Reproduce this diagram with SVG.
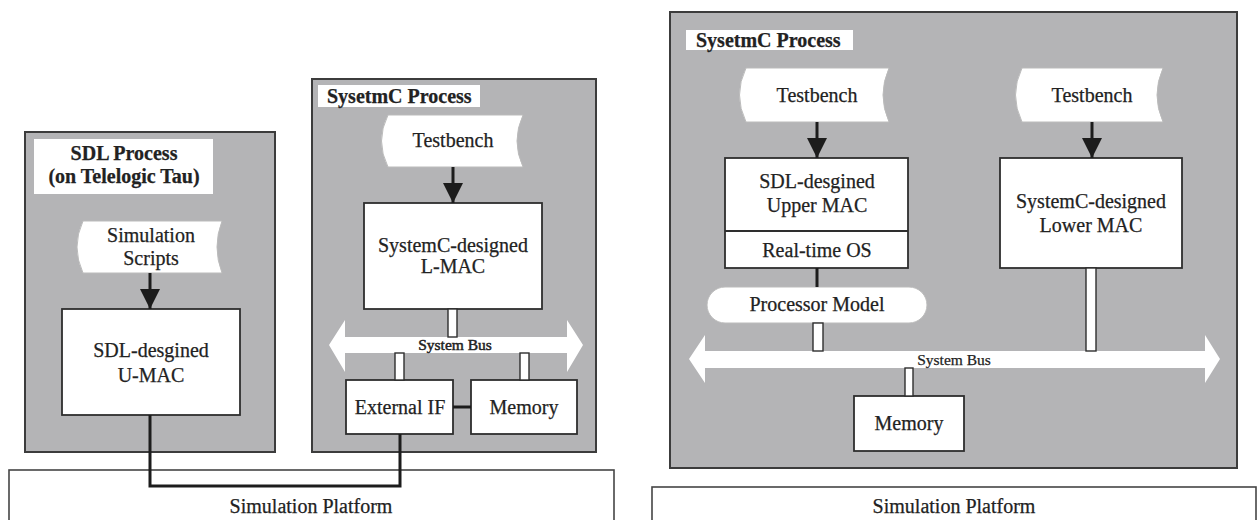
<svg xmlns="http://www.w3.org/2000/svg" width="1258" height="520" viewBox="0 0 1258 520">
  <defs>
    <style>
      .panel { fill: #b4b4b6; stroke: #3c3c3c; stroke-width: 2; }
      .box { fill: #ffffff; stroke: #2e2e2e; stroke-width: 1.8; }
      .tape { fill: #ffffff; stroke: #bbbbbb; stroke-width: 1; }
      .title-bg { fill: #ffffff; stroke: none; }
      .bus { fill: #ffffff; stroke: none; }
      .bar { fill: #ffffff; stroke: #2e2e2e; stroke-width: 1.4; }
      .wire { fill: none; stroke: #1c1c1c; stroke-width: 3; }
      .platform { fill: #ffffff; stroke: #454545; stroke-width: 1.6; }
      text { font-family: "Liberation Serif", "Times New Roman", serif; fill: #222222; stroke: #222222; stroke-width: 0.25; }
      .lbl { font-size: 20px; text-anchor: middle; }
      .ttl { font-size: 20px; font-weight: bold; }
      .ttl-c { font-size: 20px; font-weight: bold; text-anchor: middle; }
      .buslbl { font-size: 15.5px; text-anchor: middle; }
      .buslbl-b { font-size: 15.5px; text-anchor: middle; stroke-width: 0.5; }
    </style>
    <marker id="arrowhead" viewBox="0 0 20 20" refX="20" refY="10" markerWidth="20" markerHeight="20" markerUnits="userSpaceOnUse" orient="auto">
      <path d="M0,0 L20,10 L0,20 Z" fill="#1c1c1c"/>
    </marker>
  </defs>

  <!-- Simulation platforms -->
  <g id="platform-left">
    <rect class="platform" x="9" y="470" width="605" height="60"/>
    <text class="lbl" x="311" y="513">Simulation Platform</text>
  </g>
  <g id="platform-right">
    <rect class="platform" x="652" y="487" width="604" height="45"/>
    <text class="lbl" x="954" y="513">Simulation Platform</text>
  </g>

  <!-- Left: SDL process -->
  <g id="sdl-process">
    <rect class="panel" x="25" y="132" width="250" height="320"/>
    <rect class="title-bg" x="34" y="139" width="179" height="55"/>
    <text class="ttl-c" x="124" y="160">SDL Process</text>
    <text class="ttl-c" x="124" y="183">(on Telelogic Tau)</text>
  </g>
  <g id="sim-scripts">
    <path class="tape" d="M83,221 H222 Q212,247 222,273 H83 Q71,247 83,221 Z"/>
    <text class="lbl" x="151" y="242">Simulation</text>
    <text class="lbl" x="151" y="265">Scripts</text>
  </g>
  <g id="u-mac">
    <rect class="box" x="62" y="309" width="178" height="106"/>
    <text class="lbl" x="151" y="357">SDL-desgined</text>
    <text class="lbl" x="151" y="382">U-MAC</text>
  </g>

  <!-- Middle: SystemC process -->
  <g id="systemc-process-a">
    <rect class="panel" x="312" y="79" width="284" height="373"/>
    <rect class="title-bg" x="318" y="85" width="162" height="22"/>
    <text class="ttl" x="327" y="103">SysetmC Process</text>
  </g>
  <g id="testbench-a">
    <path class="tape" d="M388,115 H523 Q511,141 523,167 H388 Q375,141 388,115 Z"/>
    <text class="lbl" x="453" y="147">Testbench</text>
  </g>
  <g id="l-mac">
    <rect class="box" x="364" y="203" width="178" height="106"/>
    <text class="lbl" x="453" y="252">SystemC-designed</text>
    <text class="lbl" x="453" y="273">L-MAC</text>
  </g>
  <g id="bus-a">
    <polygon class="bus" points="329,345 345,320 345,337 567,337 567,320 583,345 567,372 567,353 345,353 345,372"/>
    <text class="buslbl-b" x="455" y="350">System Bus</text>
  </g>
  <g id="external-if">
    <rect class="box" x="346" y="380" width="107" height="54"/>
    <text class="lbl" x="400" y="414">External IF</text>
  </g>
  <g id="memory-a">
    <rect class="box" x="471" y="380" width="106" height="54"/>
    <text class="lbl" x="524" y="414">Memory</text>
  </g>

  <!-- Right: SystemC process -->
  <g id="systemc-process-b">
    <rect class="panel" x="670" y="12" width="567" height="456"/>
    <rect class="title-bg" x="686" y="30" width="167" height="20"/>
    <text class="ttl" x="696" y="47">SysetmC Process</text>
  </g>
  <g id="testbench-b">
    <path class="tape" d="M746,68 H889 Q877,95 889,122 H746 Q733,95 746,68 Z"/>
    <text class="lbl" x="817" y="102">Testbench</text>
  </g>
  <g id="testbench-c">
    <path class="tape" d="M1022,68 H1163 Q1151,95 1163,122 H1022 Q1009,95 1022,68 Z"/>
    <text class="lbl" x="1092" y="102">Testbench</text>
  </g>
  <g id="upper-mac">
    <rect class="box" x="725" y="158" width="183" height="110"/>
    <line x1="725" y1="231" x2="908" y2="231" stroke="#2e2e2e" stroke-width="1.8"/>
    <text class="lbl" x="817" y="188">SDL-desgined</text>
    <text class="lbl" x="817" y="212">Upper MAC</text>
    <text class="lbl" x="817" y="257">Real-time OS</text>
  </g>
  <g id="lower-mac">
    <rect class="box" x="1000" y="158" width="182" height="110"/>
    <text class="lbl" x="1091" y="208">SystemC-designed</text>
    <text class="lbl" x="1091" y="232">Lower MAC</text>
  </g>
  <g id="processor-model">
    <rect class="tape" x="707" y="287" width="220" height="36" rx="18" ry="18"/>
    <text class="lbl" x="817" y="311">Processor Model</text>
  </g>
  <g id="bus-b">
    <polygon class="bus" points="689,359 705,335 705,351 1205,351 1205,335 1220,359 1205,383 1205,368 705,368 705,383"/>
    <text class="buslbl" x="954" y="365">System Bus</text>
  </g>
  <g id="memory-b">
    <rect class="box" x="854" y="396" width="110" height="55"/>
    <text class="lbl" x="909" y="430">Memory</text>
  </g>

  <!-- Connectors -->
  <g id="connectors">
    <!-- data flow arrows -->
    <line class="wire" x1="150" y1="273" x2="150" y2="309" marker-end="url(#arrowhead)"/>
    <line class="wire" x1="453" y1="167" x2="453" y2="203" marker-end="url(#arrowhead)"/>
    <line class="wire" x1="817" y1="122" x2="817" y2="158" marker-end="url(#arrowhead)"/>
    <line class="wire" x1="1092" y1="122" x2="1092" y2="158" marker-end="url(#arrowhead)"/>
    <!-- solid links -->
    <polyline class="wire" points="150,415 150,486 400,486 400,434"/>
    <line class="wire" x1="453" y1="407" x2="471" y2="407"/>
    <line class="wire" x1="817" y1="268" x2="817" y2="287"/>
    <!-- bus taps -->
    <rect class="bar" x="448" y="309" width="9" height="28"/>
    <rect class="bar" x="395" y="353" width="9" height="27"/>
    <rect class="bar" x="520" y="353" width="9" height="27"/>
    <rect class="bar" x="813" y="323" width="10" height="28"/>
    <rect class="bar" x="1086" y="268" width="10" height="83"/>
    <rect class="bar" x="905" y="368" width="8" height="28"/>
  </g>
</svg>
